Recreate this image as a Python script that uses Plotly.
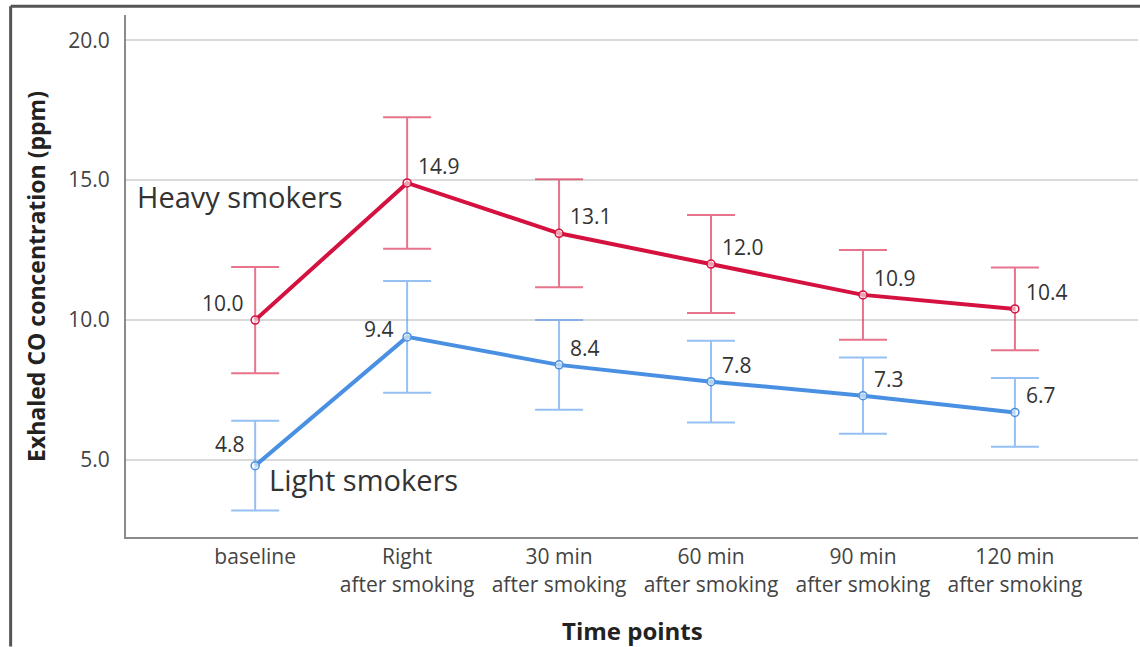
import plotly.graph_objects as go

# Time points on the x axis
time_points = [
    "baseline",
    "Right<br>after smoking",
    "30 min<br>after smoking",
    "60 min<br>after smoking",
    "90 min<br>after smoking",
    "120 min<br>after smoking",
]

# Mean exhaled CO (ppm) and error-bar half widths
heavy_mean = [10.0, 14.9, 13.1, 12.0, 10.9, 10.4]
heavy_err = [1.9, 2.35, 1.93, 1.75, 1.6, 1.48]
light_mean = [4.8, 9.4, 8.4, 7.8, 7.3, 6.7]
light_err = [1.6, 2.0, 1.6, 1.46, 1.36, 1.23]

y_ticks = [5.0, 10.0, 15.0, 20.0]

RED = "#d5113f"
RED_ERR = "rgba(218,40,80,0.65)"
BLUE = "#4a90e2"
BLUE_ERR = "rgba(80,150,235,0.6)"
FONT = "Open Sans"

fig = go.Figure()


def add_series(mean, err, color, err_color):
    fig.add_trace(go.Scatter(
        x=time_points, y=mean, mode="lines+markers",
        line=dict(color=color, width=4),
        marker=dict(symbol="circle", size=8, color="rgba(255,255,255,0.6)",
                    line=dict(color=color, width=1.5)),
        error_y=dict(type="data", array=err, visible=True,
                     color=err_color, thickness=2, width=24),
        showlegend=False, hoverinfo="skip",
    ))


add_series(heavy_mean, heavy_err, RED, RED_ERR)
add_series(light_mean, light_err, BLUE, BLUE_ERR)

# Value labels next to each point: (series, left-side indices, per-index shifts)
annotations = []


def value_labels(mean, left_idx, shifts):
    for i, v in enumerate(mean):
        left = i in left_idx
        dx, dy = shifts.get(i, (-9 if left else 9, 17))
        annotations.append(dict(
            x=time_points[i], y=v, xref="x", yref="y",
            text=f"{v:.1f}", showarrow=False,
            xanchor="right" if left else "left", yanchor="middle",
            xshift=dx, yshift=dy,
            font=dict(family=FONT, size=21, color="#333333"),
        ))


value_labels(heavy_mean, {0}, {})
value_labels(light_mean, {0, 1}, {0: (-8, 22), 1: (-11, 8)})

# Series names
annotations.append(dict(x=-0.79, y=14.4, xref="x", yref="y", text="Heavy smokers",
                        showarrow=False, xanchor="left", yanchor="middle",
                        font=dict(family=FONT, size=29, color="#333333")))
annotations.append(dict(x=0.075, y=4.3, xref="x", yref="y", text="Light smokers",
                        showarrow=False, xanchor="left", yanchor="middle",
                        font=dict(family=FONT, size=29, color="#333333")))

# Axis titles
annotations.append(dict(x=0.5, y=-0.18, xref="paper", yref="paper", text="<b>Time points</b>",
                        showarrow=False, xanchor="center", yanchor="middle",
                        font=dict(family=FONT, size=24, color="#222222")))
annotations.append(dict(x=-0.089, y=0.5, xref="paper", yref="paper",
                        text="<b>Exhaled CO concentration (ppm)</b>", textangle=-90,
                        showarrow=False, xanchor="center", yanchor="middle",
                        font=dict(family=FONT, size=23, color="#222222")))

# Outer frame (top and left edges)
shapes = [
    dict(type="line", xref="paper", yref="paper", x0=-0.114, x1=1.01, y0=1.017, y1=1.017,
         line=dict(color="#555555", width=3)),
    dict(type="line", xref="paper", yref="paper", x0=-0.114, x1=-0.114, y0=1.017, y1=-0.21,
         line=dict(color="#555555", width=3)),
]

fig.update_layout(
    width=1140, height=647,
    margin=dict(l=126, r=2, t=15, b=110),
    paper_bgcolor="white", plot_bgcolor="white",
    annotations=annotations, shapes=shapes,
    xaxis=dict(
        type="category", range=[-0.85, 5.81],
        showline=True, linecolor="#8a8a8a", linewidth=2,
        showgrid=False, ticks="", zeroline=False,
        tickfont=dict(family=FONT, size=21, color="#444444"),
    ),
    yaxis=dict(
        range=[2.25, 20.9], tickvals=y_ticks, ticktext=[f"{t:.1f}" for t in y_ticks],
        showline=True, linecolor="#8a8a8a", linewidth=2,
        showgrid=True, gridcolor="#d9d9d9", gridwidth=2,
        ticks="", zeroline=False, ticklabelstandoff=10,
        tickfont=dict(family=FONT, size=21, color="#444444"),
    ),
)

fig.write_html("out.html")
